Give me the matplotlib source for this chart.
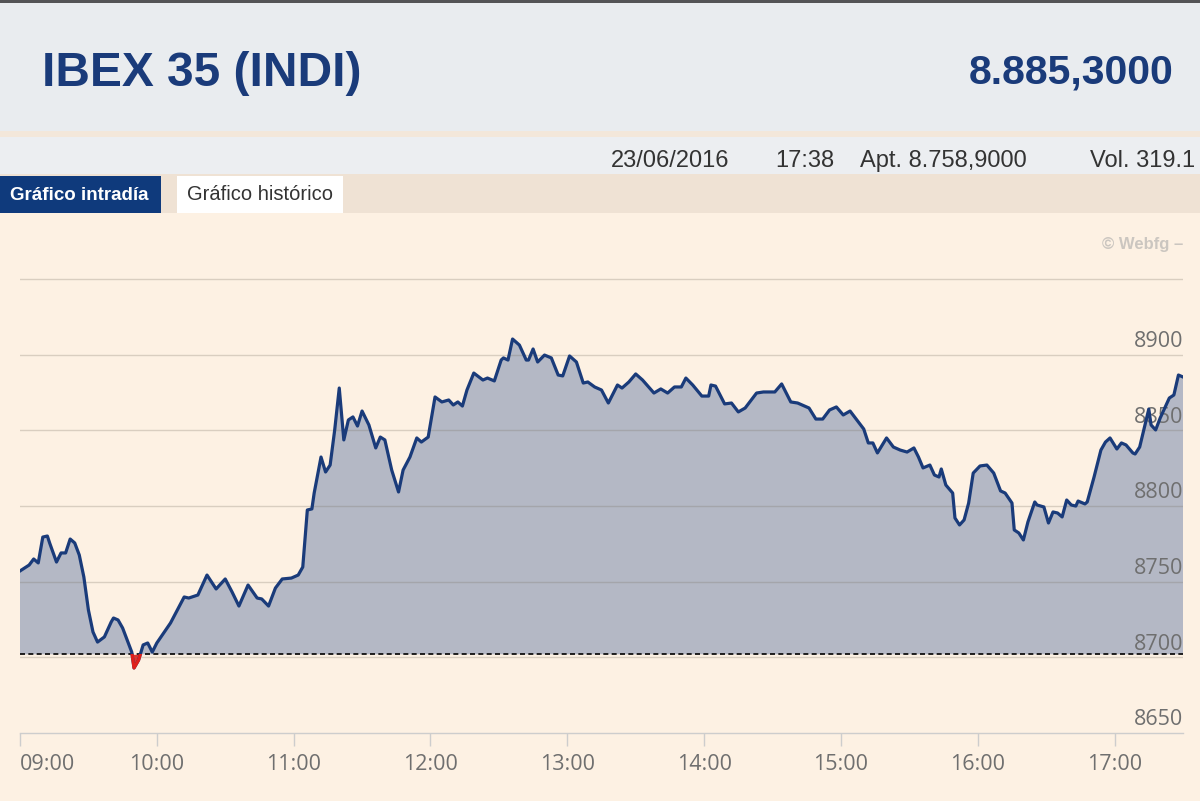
import matplotlib
matplotlib.use("Agg")
import matplotlib.pyplot as plt
from matplotlib.patches import Rectangle
import numpy as np

# ---------------- data ----------------
title = "IBEX 35 (INDI)"
last_value = "8.885,3000"
info_items = ["23/06/2016", "17:38", "Apt. 8.758,9000", "Vol. 319.1"]
tabs = ["Gráfico intradía", "Gráfico histórico"]
source = "© Webfg –"
prev_close = 8702.0

times = ["09:00", "09:04", "09:06", "09:08", "09:10", "09:12", "09:13", "09:16", "09:18", "09:20",
         "09:22", "09:24", "09:26", "09:28", "09:30", "09:32", "09:34", "09:37", "09:40", "09:41",
         "09:43", "09:45", "09:47", "09:49", "09:50", "09:52", "09:54", "09:56", "09:58", "10:00",
         "10:03", "10:06", "10:09", "10:12", "10:14", "10:18", "10:22", "10:26", "10:30", "10:33",
         "10:36", "10:40", "10:44", "10:46", "10:49", "10:52", "10:55", "10:59", "11:02", "11:04",
         "11:06", "11:08", "11:09", "11:12", "11:14", "11:16", "11:18", "11:20", "11:22", "11:24",
         "11:26", "11:28", "11:30", "11:33", "11:36", "11:38", "11:40", "11:43", "11:46", "11:48",
         "11:51", "11:54", "11:56", "11:59", "12:02", "12:05", "12:08", "12:10", "12:12", "12:14",
         "12:16", "12:19", "12:23", "12:25", "12:28", "12:31", "12:32", "12:34", "12:36", "12:39",
         "12:42", "12:43", "12:45", "12:47", "12:50", "12:53", "12:56", "12:58", "13:01", "13:04",
         "13:07", "13:09", "13:12", "13:15", "13:18", "13:22", "13:24", "13:27", "13:30", "13:33",
         "13:38", "13:41", "13:44", "13:47", "13:50", "13:52", "13:55", "13:59", "14:02", "14:03",
         "14:05", "14:09", "14:12", "14:15", "14:18", "14:23", "14:26", "14:31", "14:34", "14:38",
         "14:41", "14:46", "14:49", "14:52", "14:55", "14:58", "15:01", "15:04", "15:07", "15:10",
         "15:12", "15:14", "15:16", "15:20", "15:23", "15:26", "15:29", "15:32", "15:34", "15:36",
         "15:39", "15:41", "15:43", "15:44", "15:46", "15:49", "15:50", "15:52", "15:54", "15:56",
         "15:58", "16:01", "16:04", "16:07", "16:10", "16:12", "16:15", "16:16", "16:18", "16:20",
         "16:22", "16:25", "16:26", "16:29", "16:31", "16:33", "16:35", "16:37", "16:39", "16:41",
         "16:43", "16:44", "16:47", "16:48", "16:51", "16:54", "16:56", "16:58", "17:01", "17:03",
         "17:05", "17:08", "17:09", "17:11", "17:15", "17:16", "17:18", "17:20", "17:24", "17:26",
         "17:28", "17:30"]

values = [8757.1, 8761.0, 8765.0, 8762.4, 8779.5, 8780.2, 8775.6, 8763.0, 8769.0, 8769.0,
          8778.2, 8775.6, 8767.6, 8753.1, 8731.3, 8716.8, 8710.1, 8713.5, 8723.4, 8726.0,
          8724.7, 8719.4, 8711.5, 8703.5, 8693.0, 8698.2, 8708.2, 8709.5, 8703.5, 8709.5,
          8716.1, 8722.7, 8731.3, 8739.9, 8739.2, 8741.2, 8754.4, 8745.2, 8751.8, 8743.2,
          8733.9, 8747.8, 8739.2, 8738.6, 8733.9, 8745.8, 8751.8, 8752.4, 8754.4, 8759.7,
          8797.4, 8798.1, 8808.6, 8832.4, 8822.5, 8827.1, 8850.3, 8878.0, 8843.7, 8856.9,
          8858.9, 8852.9, 8862.8, 8853.6, 8838.4, 8845.6, 8843.7, 8823.8, 8809.3, 8823.8,
          8832.4, 8845.0, 8842.3, 8845.6, 8872.1, 8868.8, 8870.1, 8866.8, 8868.8, 8866.1,
          8876.7, 8887.9, 8883.3, 8884.6, 8882.7, 8896.5, 8897.9, 8896.5, 8910.4, 8906.4,
          8896.5, 8896.5, 8903.8, 8895.2, 8899.8, 8897.9, 8886.6, 8886.0, 8899.2, 8895.2,
          8881.3, 8882.0, 8878.7, 8876.7, 8868.1, 8880.0, 8878.0, 8882.0, 8887.3, 8883.3,
          8874.7, 8877.4, 8874.7, 8878.7, 8878.7, 8884.6, 8880.0, 8872.7, 8872.7, 8880.0,
          8879.3, 8867.5, 8868.1, 8862.2, 8864.8, 8874.7, 8875.4, 8875.4, 8880.7, 8868.8,
          8868.1, 8864.8, 8857.5, 8857.5, 8863.5, 8865.5, 8860.2, 8862.8, 8856.9, 8850.9,
          8841.7, 8841.7, 8835.1, 8845.0, 8839.0, 8837.0, 8835.7, 8838.4, 8832.4, 8825.2,
          8827.1, 8820.5, 8819.2, 8824.5, 8813.9, 8808.6, 8792.1, 8787.5, 8790.8, 8802.0,
          8821.8, 8826.5, 8827.1, 8821.8, 8810.0, 8808.6, 8802.0, 8784.2, 8782.2, 8777.6,
          8789.5, 8802.7, 8800.7, 8799.4, 8788.8, 8796.1, 8795.4, 8792.8, 8804.0, 8800.7,
          8800.0, 8803.3, 8801.4, 8802.7, 8819.2, 8837.0, 8842.3, 8845.0, 8837.7, 8841.7,
          8840.4, 8835.1, 8834.4, 8839.0, 8864.1, 8853.6, 8850.3, 8858.2, 8871.4, 8873.4,
          8886.6, 8885.3]

hour_ticks = ["09:00", "10:00", "11:00", "12:00", "13:00", "14:00", "15:00", "16:00", "17:00"]
grid_levels = [8700, 8750, 8800, 8850, 8900, 8950]
y_labels = [8650, 8700, 8750, 8800, 8850, 8900]

# ---------------- styling ----------------
W, H = 1200, 801
NAVY = "#1a3b7a"
CREAM = "#fdf1e3"
HEADER = "#e9ecef"
BEIGE = "#efe2d4"
GREY_TXT = "#6f6f6f"


def fx(px):
    return px / W


def fy(py):
    return 1 - py / H


def to_min(t):
    h, m = t.split(":")
    return (int(h) - 9) * 60 + int(m)


x = np.array([to_min(t) for t in times], dtype=float)
v = np.array(values)
xt = [to_min(t) for t in hour_ticks]

fig = plt.figure(figsize=(W / 100, H / 100), dpi=100, facecolor=CREAM)


def band(y0, y1, color, x0=0, x1=W):
    fig.add_artist(Rectangle((fx(x0), fy(y1)), fx(x1) - fx(x0), fy(y0) - fy(y1),
                             transform=fig.transFigure, facecolor=color,
                             edgecolor="none", zorder=0))


band(0, 3, "#545456")
band(3, 131, HEADER)
band(131, 137, "#f3e7da")
band(137, 174, "#eceef1")
band(174, 213, BEIGE)
band(176, 213, "#0f3a7c", 0, 161)
band(176, 213, "white", 177, 343)

hfont = ["Liberation Sans", "DejaVu Sans"]
fig.text(fx(42), fy(86), title, fontsize=34.5, fontweight="bold", color=NAVY,
         family=hfont, ha="left", va="baseline")
fig.text(fx(1173), fy(84), last_value, fontsize=29.5, fontweight="bold", color=NAVY,
         family=hfont, ha="right", va="baseline")
for txt, px in zip(info_items, [611, 775, 860, 1090]):
    fig.text(fx(px), fy(167), txt, fontsize=17, color="#333333", family=hfont,
             ha="left", va="baseline")
fig.text(fx(10), fy(200), tabs[0], fontsize=13.5, fontweight="bold", color="white",
         family=hfont, ha="left", va="baseline")
fig.text(fx(187), fy(200), tabs[1], fontsize=14.5, color="#333333",
         family=hfont, ha="left", va="baseline")
fig.text(fx(1183), fy(244), source, fontsize=12, fontweight="bold", color="#cbc6c0",
         family=hfont, ha="right", va="center")

# chart
ax = fig.add_axes([fx(20), fy(733), fx(1183) - fx(20), fy(241) - fy(733)])
ax.patch.set_alpha(0)
ax.set_xlim(0, 510)
ax.set_ylim(8650, 8650 + (733 - 241) / 1.513)

ax.fill_between(x, v, prev_close, where=v >= prev_close, interpolate=True,
                color="#b4b8c5", lw=0, zorder=1)
ax.fill_between(x, v, prev_close, where=v < prev_close, interpolate=True,
                color="#e3322c", lw=0, zorder=1)

for yv in grid_levels:
    ax.axhline(yv, color="#7d7468", alpha=0.28, lw=1.0, zorder=2)

tfont = ["Open Sans", "DejaVu Sans"]
for yv in y_labels:
    ax.annotate(str(yv), xy=(1, yv), xycoords=("axes fraction", "data"),
                xytext=(0, 2), textcoords="offset points", ha="right", va="bottom",
                fontsize=15.5, color=GREY_TXT, family=tfont, zorder=3)

ax.axhline(prev_close, color="black", lw=1.2, ls=(0, (3, 2)), zorder=4)

ax.plot(x, v, color=NAVY, lw=2.3, zorder=5, solid_joinstyle="round")
red, = ax.plot(x, v, color="#e0201b", lw=2.3, zorder=6, solid_joinstyle="round")
clip = Rectangle((0, 8600), 510, prev_close - 8600, transform=ax.transData)
red.set_clip_path(clip)

for s in ["top", "right", "left"]:
    ax.spines[s].set_visible(False)
ax.spines["bottom"].set_color("#cdcdcd")
ax.spines["bottom"].set_linewidth(1.0)
ax.set_yticks([])
ax.set_xticks(xt)
ax.set_xticklabels(hour_ticks, fontsize=15.5, color=GREY_TXT, family=tfont)
ax.tick_params(axis="x", length=9, width=1, color="#cdcdcd", pad=6)
ax.get_xticklabels()[0].set_ha("left")

fig.savefig("out.png", dpi=100, facecolor=CREAM)
